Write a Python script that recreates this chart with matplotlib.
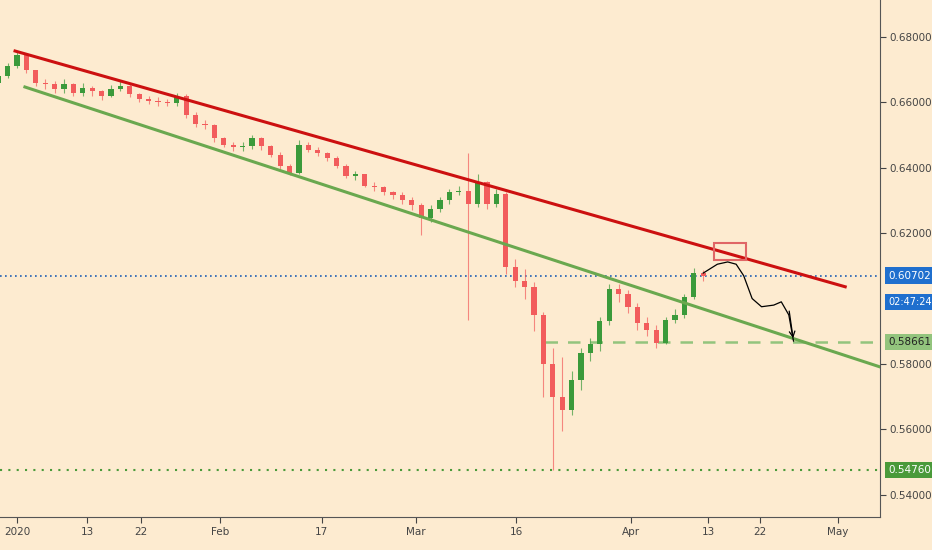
import matplotlib.pyplot as plt
import numpy as np

# daily candles, x = trading-day index (0 = Jan 1 2020)
closes = [0.668, 0.671, 0.6745, 0.670, 0.666, 0.6655, 0.664, 0.6655, 0.663, 0.6645,
          0.6635, 0.662, 0.664, 0.665, 0.6625, 0.661, 0.6605, 0.660, 0.6598, 0.662,
          0.656, 0.6535, 0.653, 0.649, 0.647, 0.6462, 0.6465, 0.649, 0.6465, 0.644,
          0.6405, 0.6385, 0.647, 0.6455, 0.6445, 0.643, 0.6405, 0.6375, 0.638, 0.6345,
          0.634, 0.6325, 0.6318, 0.630, 0.6285, 0.6245, 0.6275, 0.630, 0.6325, 0.633,
          0.629, 0.6355, 0.629, 0.632, 0.6095, 0.6055, 0.6035, 0.595, 0.580, 0.570,
          0.566, 0.575, 0.5835, 0.586, 0.593, 0.603, 0.6015, 0.5975, 0.5925, 0.5905,
          0.5865, 0.5935, 0.595, 0.6005, 0.6078, 0.6070]
first_open = 0.666
highs = [0.6695, 0.672, 0.6757, 0.675, 0.670, 0.667, 0.6665, 0.667, 0.666, 0.666,
         0.665, 0.6638, 0.6652, 0.6665, 0.6658, 0.663, 0.662, 0.6615, 0.661, 0.6628,
         0.6625, 0.657, 0.6545, 0.6535, 0.6495, 0.648, 0.6478, 0.650, 0.6495, 0.647,
         0.6448, 0.641, 0.6485, 0.648, 0.6462, 0.6448, 0.6435, 0.641, 0.639, 0.638,
         0.6355, 0.6345, 0.633, 0.6325, 0.631, 0.6292, 0.6285, 0.631, 0.6335, 0.6345,
         0.6445, 0.638, 0.636, 0.6335, 0.6325, 0.612, 0.609, 0.605, 0.596, 0.585,
         0.582, 0.578, 0.585, 0.588, 0.5945, 0.6045, 0.6045, 0.6025, 0.5985, 0.5945,
         0.592, 0.5945, 0.5968, 0.6015, 0.6092, 0.6088]
lows = [0.6665, 0.6675, 0.6705, 0.669, 0.665, 0.6642, 0.6628, 0.663, 0.6618, 0.662,
        0.662, 0.6608, 0.6615, 0.6635, 0.6615, 0.660, 0.6595, 0.659, 0.659, 0.659,
        0.6552, 0.6525, 0.652, 0.648, 0.6462, 0.645, 0.6452, 0.6458, 0.6455, 0.6432,
        0.6395, 0.6378, 0.638, 0.6448, 0.6435, 0.642, 0.6398, 0.6368, 0.6362, 0.634,
        0.633, 0.6318, 0.6305, 0.629, 0.6272, 0.6195, 0.6235, 0.6265, 0.629, 0.6318,
        0.5935, 0.628, 0.6275, 0.628, 0.6075, 0.6035, 0.600, 0.590, 0.570, 0.5476,
        0.5595, 0.5645, 0.572, 0.581, 0.584, 0.592, 0.599, 0.5955, 0.5905, 0.5885,
        0.5848, 0.586, 0.5925, 0.594, 0.600, 0.6055]
day_index = list(range(-2, 74))

tick_pos = [0, 7.5, 13.2, 21.6, 32.4, 42.4, 53.1, 65.3, 73.5, 79, 87.3]
tick_labels = ["2020", "13", "22", "Feb", "17", "Mar", "16", "Apr", "13", "22", "May"]
ytick_vals = [0.54, 0.56, 0.58, 0.62, 0.64, 0.66, 0.68]  # 0.60 hidden under the price tags

last_price = 0.60702
countdown = "02:47:24"
support = 0.58661
low_level = 0.54760
red_line = ([-0.2, 88.1], [0.6757, 0.6036])
green_line = ([0.85, 91.8], [0.6647, 0.5791])
path_x = [73.0, 74.5, 75.6, 76.5, 77.3, 78.2, 79.2, 80.5, 81.3, 82.1, 82.6]
path_y = [0.6078, 0.6105, 0.6112, 0.6105, 0.6070, 0.6000, 0.5975, 0.5980, 0.5990, 0.5950, 0.5870]

bg = "#fdebd0"
up_c, dn_c = "#3b9a3b", "#f25c5c"

fig = plt.figure(figsize=(9.32, 5.5), dpi=100, facecolor=bg)
ax = fig.add_axes([0, 0.06, 880 / 932, 0.94])
ax.set_facecolor(bg)

opens = [first_open] + closes[:-1]
for x, o, h, l, c in zip(day_index, opens, highs, lows, closes):
    col = up_c if c >= o else dn_c
    ax.vlines(x, l, h, color=col, lw=0.8, alpha=0.7, zorder=2)
    ax.bar(x, max(abs(c - o), 0.0003), bottom=min(o, c), width=0.55, color=col, zorder=3)

ax.plot(*red_line, color="#cc1010", lw=2.2, zorder=4)
ax.plot(*green_line, color="#6aa84f", lw=2.2, zorder=4)
ax.plot([56.2, 93], [support] * 2, color="#93c47d", lw=1.8, ls=(0, (5, 4)), zorder=1)
ax.axhline(last_price, color="#1e5fb4", lw=1.2, ls=(0, (1, 2)), zorder=1)
ax.axhline(low_level, color="#4a9a3a", lw=1.5, ls=(0, (1, 3)), zorder=1)
ax.add_patch(plt.Rectangle((74.1, 0.6118), 3.4, 0.0052, fill=False, ec="#e06666", lw=1.5, zorder=5))
ax.plot(path_x, path_y, color="black", lw=0.9, zorder=6)
ax.annotate("", xy=(path_x[-1], path_y[-1]), xytext=(path_x[-2], path_y[-2] + 0.002),
            arrowprops=dict(arrowstyle="->", color="black", lw=0.9))

ax.set_xlim(-1.8, 91.8)
ax.set_ylim(0.5332, 0.6913)
ax.set_xticks(tick_pos)
ax.set_xticklabels(tick_labels)
ax.yaxis.tick_right()
ax.set_yticks(ytick_vals)
ax.set_yticklabels([f"{v:.5f}" for v in ytick_vals])
ax.tick_params(colors="#444444", labelsize=7.5, length=4, pad=3)
for s in ["top", "left"]:
    ax.spines[s].set_visible(False)
ax.spines["right"].set_color("#555555")
ax.spines["bottom"].set_color("#555555")

def price_tag(y, text, fc, tc, size=7.5):
    ax.text(1.009, y, text, transform=ax.get_yaxis_transform(), va="center", ha="left",
            fontsize=size, color=tc,
            bbox=dict(boxstyle="square,pad=0.3", fc=fc, ec="none"))

price_tag(last_price, f"{last_price:.5f}", "#1f6fce", "white")
price_tag(last_price - 0.0080, countdown, "#1f6fce", "white", size=7)
price_tag(support, f"{support:.5f}", "#93c47d", "#222222")
price_tag(low_level, f"{low_level:.5f}", "#4a9a3a", "white")

fig.savefig("out.png", facecolor=bg)
